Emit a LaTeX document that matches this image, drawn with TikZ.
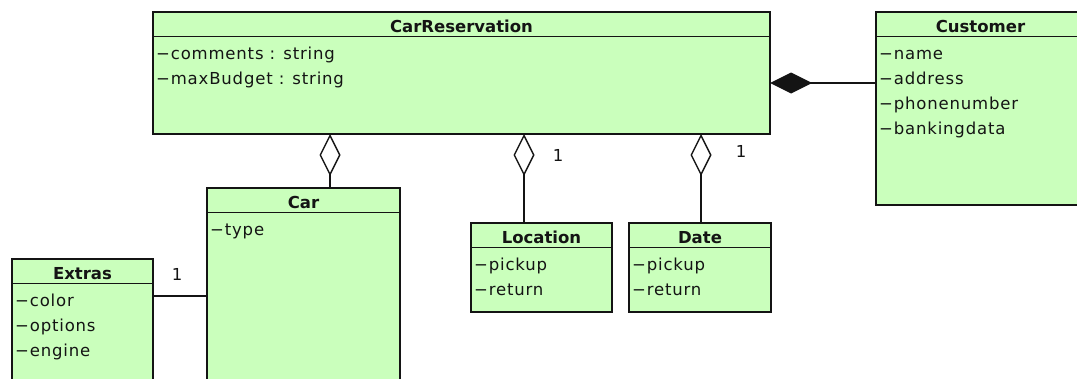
\documentclass[tikz,border=0pt]{standalone}
\usepackage{fontspec}
\usetikzlibrary{arrows.meta}
\setmainfont{DejaVu Sans}
\newfontfamily\attrfamily{DejaVu Sans}[LetterSpace=5]
\definecolor{umlgreen}{RGB}{202,255,188}
\definecolor{umlink}{RGB}{20,20,20}

% One UML class: name, x, y (top left), width, height, title, attributes
\newcommand\umlclass[7]{%
  \node[clsbox, minimum width=#4pt, minimum height=#5pt] (#1) at (#2,#3) {};
  \draw[umlink] ([yshift=-24.5pt]#1.north west) -- ([yshift=-24.5pt]#1.north east);
  \node[titletext] (#1-title) at ([yshift=-20pt]#1.north) {#6};
  \foreach \a [count=\i] in {#7}
    \node[attrtext] (#1-a\i) at ([xshift=2.5pt,yshift={-47.5pt-(\i-1)*25pt}]#1.north west) {\a};
}

\begin{document}
\begin{tikzpicture}[x=1pt, y=-1pt, line width=1.4pt,
  clsbox/.style={draw=umlink, fill=umlgreen, rectangle, inner sep=0pt, outer sep=0pt, anchor=north west},
  titletext/.style={anchor=base, inner sep=0pt, text=umlink, font=\fontsize{16.5}{20}\selectfont\bfseries},
  attrtext/.style={anchor=base west, inner sep=0pt, text=umlink, font=\attrfamily\fontsize{16.5}{20}\selectfont},
  multtext/.style={anchor=base, inner sep=0pt, text=umlink, font=\attrfamily\fontsize{16.5}{20}\selectfont},
  aggr/.style={draw=umlink, {Diamond[open, length=42pt, width=21pt]}-},
  comp/.style={draw=umlink, {Diamond[length=42pt, width=21pt]}-}
]
\useasboundingbox (0,0) rectangle (1077,378);
\fill[white] (0,0) rectangle (1077,378);
\clip (0,0) rectangle (1077,378);

\umlclass{carres}{153}{12}{617}{122}{CarReservation}{−comments : string, −maxBudget : string}
\umlclass{customer}{876}{12}{209}{193}{Customer}{−name, −address, −phonenumber, −bankingdata}
\umlclass{car}{207}{188}{193}{220}{Car}{−type}
\umlclass{extras}{12}{259}{141}{150}{Extras}{−color, −options, −engine}
\umlclass{location}{471}{223}{141}{89}{Location}{−pickup, −return}
\umlclass{date}{629}{223}{142}{89}{Date}{−pickup, −return}

% aggregations hanging below the reservation
\draw[aggr] ([xshift=177pt]carres.south west) -- ([xshift=123pt]car.north west);
\draw[aggr] ([xshift=371pt]carres.south west) -- ([xshift=53pt]location.north west);
\draw[aggr] ([xshift=548pt]carres.south west) -- ([xshift=72pt]date.north west);

% composition with the customer
\draw[comp] ([yshift=-71pt]carres.north east) -- ([yshift=-71pt]customer.north west);

% car and its extras
\draw[umlink] ([yshift=-37pt]extras.north east) -- ([yshift=-108pt]car.north west);

% multiplicities
\node[multtext] (m-extras) at (177,280) {1};
\node[multtext] (m-location) at (558,161) {1};
\node[multtext] (m-date) at (741,157) {1};
\end{tikzpicture}
\end{document}
